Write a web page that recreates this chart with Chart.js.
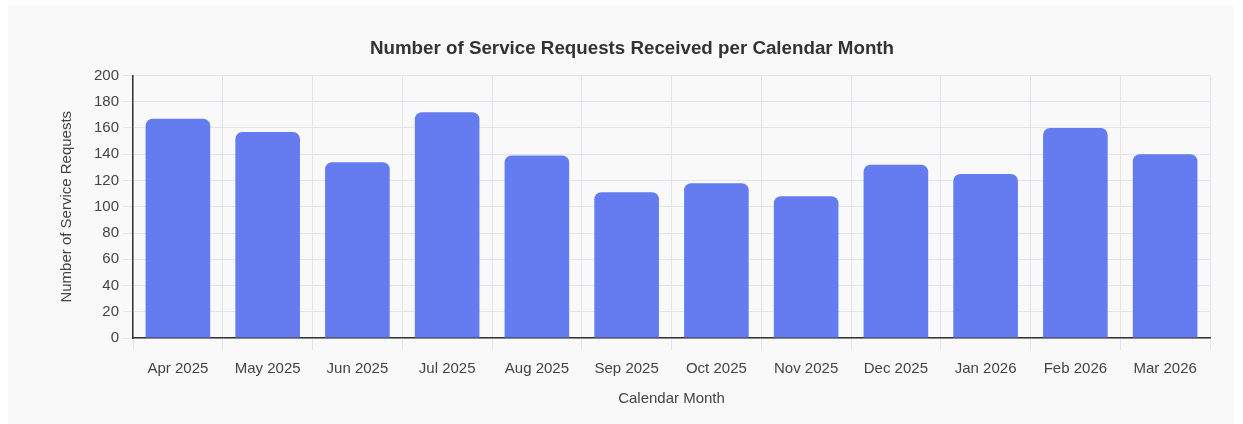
<!DOCTYPE html>
<html>
<head>
<meta charset="utf-8">
<script src="https://cdn.jsdelivr.net/npm/chart.js@4"></script>
<style>
  html, body { margin: 0; padding: 0; background: #ffffff; }
  #card { position: absolute; left: 8px; top: 5px; width: 1226px; height: 419px; background: #f9f9f9; }
  #wrap { position: absolute; left: 0; top: 0; width: 1243px; height: 424px; }
</style>
</head>
<body>
<div id="card"></div>
<div id="wrap"><canvas id="grafPedidos"></canvas></div>
<script>
// Service requests per calendar month
const meses = ['Apr 2025', 'May 2025', 'Jun 2025', 'Jul 2025', 'Aug 2025', 'Sep 2025',
               'Oct 2025', 'Nov 2025', 'Dec 2025', 'Jan 2026', 'Feb 2026', 'Mar 2026'];
const pedidos = [167, 157, 134, 172, 139, 111, 118, 108, 132, 125, 160, 140];
const ticksY = [0, 20, 40, 60, 80, 100, 120, 140, 160, 180, 200];

const AZUL   = '#647cef';
const GRADE  = '#e4e4ea';
const EIXO   = '#333333';
const TEXTO  = '#444444';

Chart.defaults.font.family = "'Liberation Sans', Arial, sans-serif";
Chart.defaults.font.size = 15;
Chart.defaults.color = TEXTO;

new Chart(document.getElementById('grafPedidos'), {
    type: 'bar',
    data: {
        labels: meses,
        datasets: [{
            data: pedidos,
            backgroundColor: AZUL,
            borderRadius: 7,
            borderSkipped: 'start'
        }]
    },
    options: {
        responsive: true,
        maintainAspectRatio: false,
        animation: false,
        layout: { padding: { top: 28, left: 54, right: 33, bottom: 12 } },
        plugins: {
            legend: { display: false },
            tooltip: { enabled: false },
            title: {
                display: true,
                text: 'Number of Service Requests Received per Calendar Month',
                color: '#333333',
                font: { size: 18.75, weight: 'bold' },
                padding: { top: 10, bottom: 15 }
            }
        },
        scales: {
            x: {
                grid: { color: GRADE, tickLength: 12 },
                border: { color: EIXO, width: 1.5 },
                ticks: { padding: 10 },
                title: { display: true, text: 'Calendar Month', padding: { top: 2, bottom: 4 } }
            },
            y: {
                min: 0,
                max: 200,
                afterBuildTicks: (escala) => { escala.ticks = ticksY.map(v => ({ value: v })); },
                grid: { color: GRADE, tickLength: 10 },
                border: { color: EIXO, width: 1.5 },
                ticks: { padding: 4 },
                title: { display: true, text: 'Number of Service Requests', padding: { top: 4, bottom: 14 } }
            }
        }
    }
});
</script>
</body>
</html>
